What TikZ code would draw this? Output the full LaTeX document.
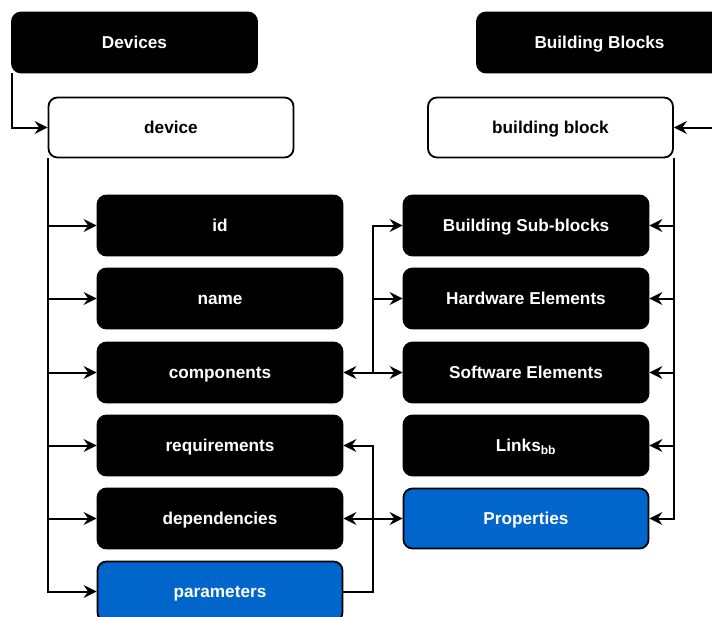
\documentclass[tikz,border=0pt]{standalone}
\usepackage{fontspec}
\setmainfont{Liberation Sans}
\usetikzlibrary{arrows.meta}
\definecolor{propblue}{HTML}{0066CC}
\tikzset{
  box/.style={rectangle, rounded corners=9pt, draw=black, line width=1.8pt,
    minimum width=245pt, minimum height=60pt, inner sep=0pt,
    text height=12.3pt, text depth=0pt,
    font=\fontsize{17.2}{20}\selectfont\bfseries},
  darkbox/.style={box, fill=black, text=white},
  lightbox/.style={box, fill=white, text=black},
  bluebox/.style={box, fill=propblue, text=white},
  link/.style={line width=2pt, -{Stealth[length=13pt,width=13pt,inset=4.5pt]}},
  linkboth/.style={line width=2pt, {Stealth[length=13pt,width=13pt,inset=4.5pt]}-{Stealth[length=13pt,width=13pt,inset=4.5pt]}},
}
\begin{document}
\begin{tikzpicture}[x=1pt,y=-1pt]
  \path[use as bounding box, clip] (0,0) rectangle (712,616);
  %Headers
  \node[darkbox] (devices) at (134.5,42.5) {Devices};
  \node[darkbox] (bblocks) at (599.5,42.5) {Building Blocks};
  \node[lightbox] (device) at (171,127.5) {device};
  \node[lightbox] (bblock) at (550.5,127.5) {building block};
  %Device fields
  \node[darkbox] (id) at (220,225.5) {id};
  \node[darkbox] (name) at (220,298.5) {name};
  \node[darkbox] (components) at (220,372.5) {components};
  \node[darkbox] (requirements) at (220,445.5) {requirements};
  \node[darkbox] (dependencies) at (220,518.5) {dependencies};
  \node[bluebox] (parameters) at (220,591.5) {parameters};
  %Building block fields
  \node[darkbox] (subblocks) at (526,225.5) {Building Sub-blocks};
  \node[darkbox] (hardware) at (526,298.5) {Hardware Elements};
  \node[darkbox] (software) at (526,372.5) {Software Elements};
  \node[darkbox] (links) at (526,445.5) {Links\textsubscript{bb}};
  \node[bluebox] (properties) at (526,518.5) {Properties};
  %Header links
  \draw[link] ([xshift=1pt]devices.south west) |- (device.west);
  \draw[link] (bblocks.south east) |- (bblock.east);
  %Left trunk
  \draw[link] (device.south west) |- (id.west);
  \draw[link] (device.south west) |- (name.west);
  \draw[link] (device.south west) |- (components.west);
  \draw[link] (device.south west) |- (requirements.west);
  \draw[link] (device.south west) |- (dependencies.west);
  \draw[link] (device.south west) |- (parameters.west);
  %Right trunk
  \draw[link] (bblock.south east) |- (subblocks.east);
  \draw[link] (bblock.south east) |- (hardware.east);
  \draw[link] (bblock.south east) |- (software.east);
  \draw[link] (bblock.south east) |- (links.east);
  \draw[link] (bblock.south east) |- (properties.east);
  %Cross links
  \coordinate (cmid) at (373,372.5);
  \draw[linkboth] (components.east) -- (software.west);
  \draw[link] (cmid) |- (subblocks.west);
  \draw[link] (cmid) |- (hardware.west);
  \draw[link] (parameters.east) -| (cmid |- parameters.east) |- (requirements.east);
  \draw[linkboth] (dependencies.east) -- (properties.west);
\end{tikzpicture}
\end{document}
